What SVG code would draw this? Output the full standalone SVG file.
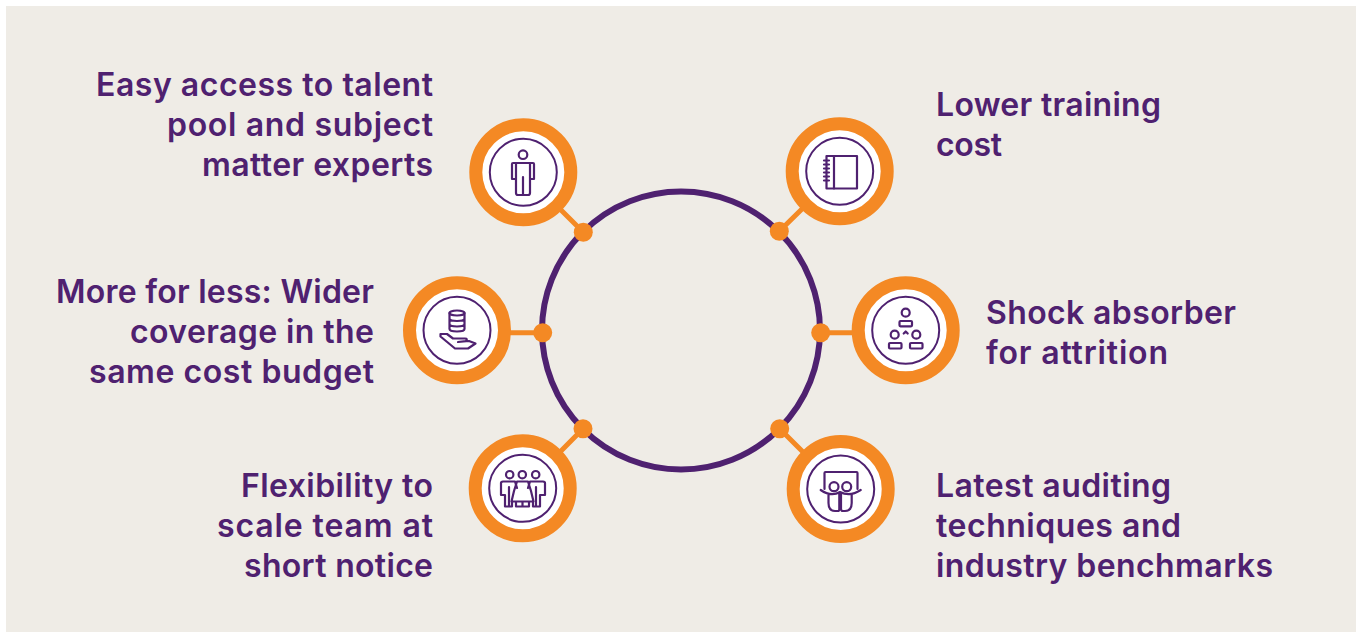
<svg xmlns="http://www.w3.org/2000/svg" width="1362" height="633" viewBox="0 0 1362 633">
<style>
.t{font-family:"Inter","Noto Sans",sans-serif;font-size:32px;font-weight:600;fill:#4F2170}
.e{text-anchor:end}
.o{fill:#F48924;stroke:none}
.c{stroke:#F48924;stroke-width:5;fill:none}
.ic{fill:none;stroke:#4F2170;stroke-width:2.200;stroke-linejoin:round;stroke-linecap:round}
.rg{fill:#fff;stroke:#F48924;stroke-width:13}
.in{fill:#fff;stroke:#4F2170;stroke-width:2}
</style>
<rect width="1362" height="633" fill="#fff"/>
<rect x="6" y="6" width="1350" height="626" fill="#EFECE6"/>
<g id="connectors">
<circle cx="681" cy="330.500" r="139" fill="none" stroke="#4F2170" stroke-width="6"/>
<path class="c" d="M560 209L583.300 232.300M803 208L779.300 231.300M505 332.700H542.700M858 332.700H820.700M560 452L583 428.700M803 452L779.700 428.700"/>
<circle class="o" cx="583.300" cy="232.300" r="9.500"/>
<circle class="o" cx="779.300" cy="231.300" r="9.500"/>
<circle class="o" cx="542.700" cy="332.700" r="9.500"/>
<circle class="o" cx="820.700" cy="332.700" r="9.500"/>
<circle class="o" cx="583" cy="428.700" r="9.500"/>
<circle class="o" cx="779.700" cy="428.700" r="9.500"/>
</g>
<g id="node-talent">
<circle class="rg" cx="523.300" cy="172.300" r="47.500"/><circle class="in" cx="523.300" cy="172.300" r="33.500"/>
<g class="ic"><circle cx="523" cy="154.700" r="4.300"/><path d="M513 163H533Q534 163 534 164V179H530V193Q530 195 528 195H518Q516 195 516 193V179H512V164Q512 163 513 163ZM516 164V179M530 164V179M523 177V195"/></g>
<text class="t e" x="433" y="96" textLength="337">Easy access to talent</text>
<text class="t e" x="433" y="136" textLength="266">pool and subject</text>
<text class="t e" x="433" y="176" textLength="231">matter experts</text>
</g>
<g id="node-training">
<circle class="rg" cx="839.700" cy="171.300" r="47.500"/><circle class="in" cx="839.700" cy="171.300" r="33.500"/>
<g class="ic"><rect x="826.500" y="156" width="30.500" height="32.500"/><path d="M834 156V188.500M824 160.500H829M824 164.500H829M824 168.500H829M824 172.500H829M824 176.500H829M824 180.500H829"/></g>
<text class="t" x="936" y="116" textLength="225">Lower training</text>
<text class="t" x="936" y="156" textLength="66">cost</text>
</g>
<g id="node-budget">
<circle class="rg" cx="457" cy="330.300" r="47.500"/><circle class="in" cx="457" cy="330.300" r="33.500"/>
<g class="ic"><ellipse cx="457" cy="313" rx="7.500" ry="2.500"/><path d="M449.500 313V329Q449.500 331.500 457 331.500T464.500 329V313M449.500 318.500Q449.500 321 457 321T464.500 318.500M449.500 324Q449.500 326.500 457 326.500T464.500 324"/><path d="M440.500 334H447L453 338.500H465Q468 338.500 466 341L458 342L469 341L475.500 343.500L468 348.500H455L440.500 336.500Z"/></g>
<text class="t e" x="374" y="303" textLength="318">More for less: Wider</text>
<text class="t e" x="374" y="343" textLength="244">coverage in the</text>
<text class="t e" x="374" y="383" textLength="285">same cost budget</text>
</g>
<g id="node-attrition">
<circle class="rg" cx="905.700" cy="330.300" r="47.500"/><circle class="in" cx="905.700" cy="330.300" r="33.500"/>
<g class="ic"><circle cx="905.700" cy="312.700" r="4"/><rect x="899.500" y="321" width="12.500" height="5.300" rx="1"/><circle cx="894.700" cy="334.700" r="4"/><circle cx="916.300" cy="334.700" r="4"/><rect x="889" y="343" width="12.500" height="5.500" rx="1"/><rect x="910" y="343" width="12.500" height="5.500" rx="1"/><path d="M903.700 333.500L905.700 331.500L907.700 333.500"/></g>
<text class="t" x="986" y="324" textLength="250">Shock absorber</text>
<text class="t" x="986" y="364" textLength="182">for attrition</text>
</g>
<g id="node-flexibility">
<circle class="rg" cx="522.700" cy="488.300" r="47.500"/><circle class="in" cx="522.700" cy="488.300" r="33.500"/>
<g class="ic"><circle cx="509.700" cy="474.700" r="3.700"/><circle cx="522.300" cy="474.700" r="3.700"/><circle cx="535.700" cy="474.700" r="3.700"/><path d="M501 495V483Q501 481.500 503 481.500H515L517 488M528 488L530 481.500H543Q545 481.500 545 483V495H540V506.500H533V501M501 495H505V506.500H512V501M509 487V506M536 487V506"/><path d="M517 481.500H528L531 491L533.500 501.500H511.500L514 491ZM516 501.500V506.500H529V501.500M522.500 501.500V506.500"/></g>
<text class="t e" x="433" y="497" textLength="192">Flexibility to</text>
<text class="t e" x="433" y="537" textLength="216">scale team at</text>
<text class="t e" x="433" y="577" textLength="189">short notice</text>
</g>
<g id="node-auditing">
<circle class="rg" cx="840.700" cy="489" r="47.500"/><circle class="in" cx="840.700" cy="489" r="33.500"/>
<g class="ic"><path d="M824.500 489V473Q824.500 472 825.500 472H856.500Q857.500 472 857.500 473V489"/><circle cx="834" cy="486.700" r="4.500"/><circle cx="846.700" cy="486.700" r="4.500"/><path d="M820.700 490Q831 497 840 492Q850 497 860.700 490M828.500 494V503Q828.500 511 835 511H838Q839.300 511 839.300 509V493M841 493V509Q841 511 843 511H845Q851.700 511 851.700 503V494"/></g>
<text class="t" x="936" y="497" textLength="235">Latest auditing</text>
<text class="t" x="936" y="537" textLength="245">techniques and</text>
<text class="t" x="936" y="577" textLength="337">industry benchmarks</text>
</g>
</svg>
